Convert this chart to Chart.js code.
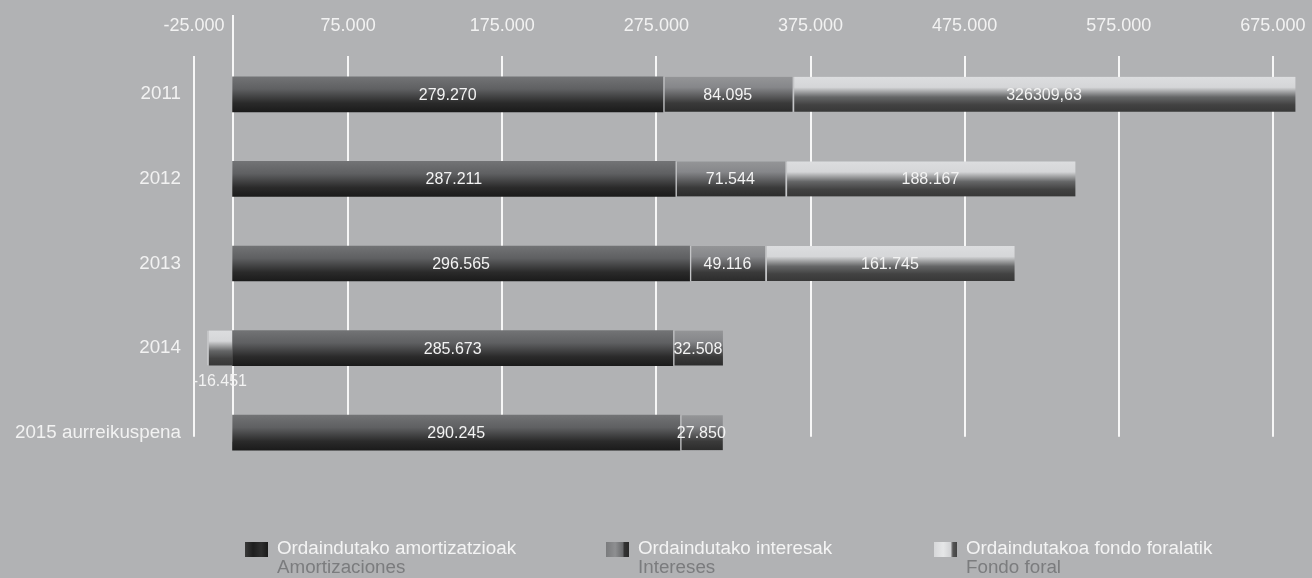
<!DOCTYPE html>
<html>
<head>
<meta charset="utf-8">
<script src="https://cdn.jsdelivr.net/npm/chart.js@4.4.1/dist/chart.umd.min.js"></script>
<style>
  html, body { margin: 0; padding: 0; background: #b1b2b4; }
  #wrap { position: relative; width: 1312px; height: 578px; overflow: hidden; }
  #legend { position: absolute; left: 0; top: 539px; width: 1312px; height: 40px;
            font-family: "Liberation Sans", Arial, sans-serif; font-size: 18.8px; line-height: 18px; }
  .item { position: absolute; top: 0; }
  .sw { position: absolute; left: 0; top: 3px; width: 23px; height: 15px; }
  .t1 { position: absolute; left: 32px; top: 0; white-space: nowrap; color: #f4f4f4; }
  .t2 { position: absolute; left: 32px; top: 19px; white-space: nowrap; color: #7b7c7e; }
</style>
</head>
<body>
<div id="wrap">
  <canvas id="c" width="1312" height="578"></canvas>
  <div id="legend"></div>
</div>
<script>
const categories     = ['2011', '2012', '2013', '2014', '2015 aurreikuspena'];
const amortizaciones = [279270, 287211, 296565, 285673, 290245];
const intereses      = [84095, 71544, 49116, 32508, 27850];
const fondoForal     = [326309.63, 188167, 161745, -16451, null];
const tickValues     = [-25000, 75000, 175000, 275000, 375000, 475000, 575000, 675000];
const seriesNames    = ['Ordaindutako amortizatzioak', 'Ordaindutako interesak', 'Ordaindutakoa fondo foralatik'];
const seriesSubNames = ['Amortizaciones', 'Intereses', 'Fondo foral'];

const FONT = '"Liberation Sans", Arial, sans-serif';
const BAR_H = 35;

// 279270 -> 279.270 ; 326309.63 -> 326309,63
function fmt(v) {
  if (!Number.isInteger(v)) return v.toFixed(2).replace('.', ',');
  const s = Math.abs(v).toString().replace(/\B(?=(\d{3})+(?!\d))/g, '.');
  return (v < 0 ? '-' : '') + s;
}

function grad(stops) {
  return ctx => {
    const c = ctx.chart, ys = c.scales.y;
    if (!ys || !c.chartArea || ctx.dataIndex === undefined) return stops[0][1];
    const yc = ys.getPixelForValue(ctx.dataIndex);
    const g = c.ctx.createLinearGradient(0, yc - BAR_H / 2, 0, yc + BAR_H / 2);
    stops.forEach(([o, col]) => g.addColorStop(o, col));
    return g;
  };
}

const darkStops  = [[0, '#727375'], [0.35, '#5f6062'], [0.75, '#2a2a2a'], [1, '#1b1b1b']];
const midStops   = [[0, '#949597'], [0.3, '#86878a'], [0.75, '#3a3a3a'], [1, '#2c2c2c']];
const lightStops = [[0, '#dcdddf'], [0.3, '#d5d6d8'], [0.58, '#656667'], [0.8, '#424242'], [1, '#383838']];

// grid lines: stop at the last category, zero line reaches the top
const gridPlugin = {
  id: 'grid',
  beforeDatasetsDraw(chart) {
    const { ctx, chartArea, scales: { x, y } } = chart;
    const yEnd = y.getPixelForValue(categories.length - 1) + 4;
    ctx.save();
    ctx.strokeStyle = '#f7f7f7';
    ctx.lineWidth = 2;
    ctx.beginPath();
    tickValues.forEach(v => {
      const px = Math.round(x.getPixelForValue(v));
      ctx.moveTo(px, chartArea.top + 4);
      ctx.lineTo(px, yEnd);
    });
    const z = Math.round(x.getPixelForValue(0));
    ctx.moveTo(z, 15);
    ctx.lineTo(z, yEnd + 5);
    ctx.stroke();
    ctx.restore();
  }
};

const valueLabels = {
  id: 'valueLabels',
  afterDatasetsDraw(chart) {
    const { ctx } = chart;
    ctx.save();
    ctx.font = '16px ' + FONT;
    ctx.fillStyle = '#f3f3f3';
    ctx.textAlign = 'center';
    ctx.textBaseline = 'middle';
    chart.data.datasets.forEach((ds, di) => {
      chart.getDatasetMeta(di).data.forEach((el, i) => {
        const v = ds.data[i];
        if (v === null || v === undefined) return;
        const cx = (el.x + el.base) / 2;
        const cy = v < 0 ? el.y + BAR_H / 2 + 16 : el.y + 1;
        ctx.fillText(fmt(v), cx, cy);
      });
    });
    ctx.restore();
  }
};

new Chart(document.getElementById('c'), {
  type: 'bar',
  data: {
    labels: categories,
    datasets: [
      { label: seriesNames[0], data: amortizaciones, backgroundColor: grad(darkStops), borderWidth: 0 },
      { label: seriesNames[1], data: intereses, backgroundColor: grad(midStops),
        borderColor: '#c4c5c7', borderWidth: { left: 2, right: 0, top: 0, bottom: 0 }, borderSkipped: false },
      { label: seriesNames[2], data: fondoForal, backgroundColor: grad(lightStops),
        borderColor: '#c4c5c7', borderWidth: { left: 2, right: 0, top: 0, bottom: 0 }, borderSkipped: false }
    ]
  },
  options: {
    indexAxis: 'y',
    responsive: false,
    animation: false,
    devicePixelRatio: 1,
    layout: { padding: { left: 0, right: 16, top: 1, bottom: 103 } },
    datasets: { bar: { barThickness: BAR_H } },
    plugins: { legend: { display: false }, tooltip: { enabled: false } },
    scales: {
      x: {
        type: 'linear', position: 'top', stacked: true,
        min: -25000, max: 690000,
        afterBuildTicks: s => { s.ticks = tickValues.map(v => ({ value: v })); },
        afterFit: s => { s.height = 51; s.paddingLeft = 0; s.paddingRight = 0; },
        grid: { display: false, drawTicks: false },
        border: { display: false },
        ticks: { padding: 15, color: '#f2f2f2', font: { family: FONT, size: 18 }, callback: v => fmt(v), maxRotation: 0 }
      },
      y: {
        stacked: true,
        afterFit: s => { s.width = 194; },
        grid: { display: false, drawTicks: false },
        border: { display: false },
        ticks: { padding: 13, color: '#f2f2f2', font: { family: FONT, size: 18.8 } }
      }
    }
  },
  plugins: [gridPlugin, valueLabels]
});

// html legend, two lines per series
const swatches = [
  'linear-gradient(to right, #3a3a3a, #1e1e1e 35%, #2e2e2e 70%, #1a1a1a)',
  'linear-gradient(to right, #7a7b7d, #8e8f91 40%, #6a6b6d 72%, #333 80%, #2a2a2a)',
  'linear-gradient(to right, #d6d7d9, #e6e7e8 40%, #d2d3d5 72%, #555 82%, #444)'
];
const legendX = [245, 606, 934];
const legend = document.getElementById('legend');
seriesNames.forEach((n, i) => {
  const it = document.createElement('div');
  it.className = 'item';
  it.style.left = legendX[i] + 'px';
  it.innerHTML = '<div class="sw" style="background:' + swatches[i] + '"></div>' +
    '<div class="t1">' + n + '</div><div class="t2">' + seriesSubNames[i] + '</div>';
  legend.appendChild(it);
});
</script>
</body>
</html>
